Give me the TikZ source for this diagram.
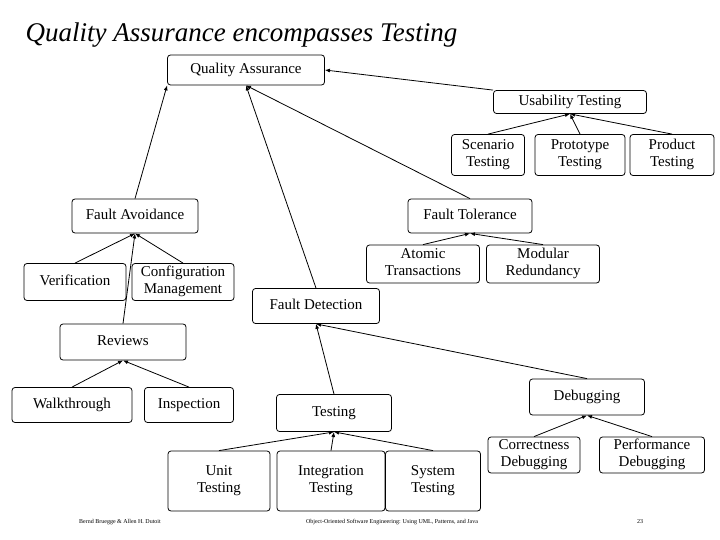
\documentclass[tikz,border=0pt]{standalone}
\usepackage{fontspec}
\setmainfont{Liberation Serif}
\usetikzlibrary{arrows.meta}
\newcommand{\twoline}[2]{#1\strut\\#2\strut}
\tikzset{
  box/.style={draw,thick,rounded corners=3pt,align=center,inner sep=1pt,
    font=\fontsize{15}{17}\selectfont},
  isa/.style={thick,-{Latex[length=5pt,width=4pt]}}
}
\begin{document}
\begin{tikzpicture}[x=1pt,y=-1pt]
  \useasboundingbox (0,0) rectangle (720,540);

  \node[font=\fontsize{27}{29}\itshape,anchor=west] (title) at (22,35) {Quality Assurance encompasses Testing};

  \node[box,minimum width=157,minimum height=30] (qa) at (246,70) {Quality Assurance\strut};
  \node[box,minimum width=153,minimum height=23] (ut) at (570,102) {Usability Testing\strut};
  \node[box,minimum width=73,minimum height=41] (st) at (488,155) {\twoline{Scenario}{Testing}};
  \node[box,minimum width=90,minimum height=41] (pt) at (580,155) {\twoline{Prototype}{Testing}};
  \node[box,minimum width=84,minimum height=41] (prt) at (672,155) {\twoline{Product}{Testing}};
  \node[box,minimum width=126,minimum height=34] (fa) at (135,216) {Fault Avoidance\strut};
  \node[box,minimum width=124,minimum height=34] (ft) at (470,216) {Fault Tolerance\strut};
  \node[box,minimum width=113,minimum height=38] (at) at (423,264) {\twoline{Atomic}{Transactions}};
  \node[box,minimum width=113,minimum height=38] (mr) at (543,264) {\twoline{Modular}{Redundancy}};
  \node[box,minimum width=102,minimum height=37] (ver) at (75,282) {Verification\strut};
  \node[box,minimum width=102,minimum height=37] (cm) at (183,282) {\twoline{Configuration}{Management}};
  \node[box,minimum width=127,minimum height=35] (fd) at (316,306) {Fault Detection\strut};
  \node[box,minimum width=126,minimum height=36] (rev) at (123,342) {Reviews\strut};
  \node[box,minimum width=120,minimum height=35] (wt) at (72,405) {Walkthrough\strut};
  \node[box,minimum width=89,minimum height=35] (ins) at (189,405) {Inspection\strut};
  \node[box,minimum width=115,minimum height=37] (tst) at (334,413) {Testing\strut};
  \node[box,minimum width=115,minimum height=36] (dbg) at (587,397) {Debugging\strut};
  \node[box,minimum width=102,minimum height=60] (unit) at (219,481) {\twoline{Unit}{Testing}};
  \node[box,minimum width=108,minimum height=60] (int) at (331,481) {\twoline{Integration}{Testing}};
  \node[box,minimum width=95,minimum height=60] (sys) at (433,481) {\twoline{System}{Testing}};
  \node[box,minimum width=92,minimum height=36] (cor) at (534,455) {\twoline{Correctness}{Debugging}};
  \node[box,minimum width=105,minimum height=36] (perf) at (652,455) {\twoline{Performance}{Debugging}};

  \node[font=\fontsize{6}{7}\selectfont] (f1) at (120,522) {Bernd Bruegge \& Allen H. Dutoit};
  \node[font=\fontsize{6}{7}\selectfont] (f2) at (392,522) {Object-Oriented Software Engineering: Using UML, Patterns, and Java};
  \node[font=\fontsize{6}{7}\selectfont] (f3) at (640,522) {23};

  \draw[isa] (fa.north) -- (qa.south west);
  \draw[isa] (fd.north) -- (qa.south);
  \draw[isa] (ft.north) -- (qa.south);
  \draw[isa] (ut.north west) -- (qa.east);
  \draw[isa] (st.north) -- (ut.south);
  \draw[isa] (pt.north) -- (ut.south);
  \draw[isa] (prt.north) -- (ut.south);
  \draw[isa] (at.north) -- (ft.south);
  \draw[isa] (mr.north) -- (ft.south);
  \draw[isa] (ver.north) -- (fa.south);
  \draw[isa] (cm.north) -- (fa.south);
  \draw[isa] (rev.north) -- (fa.south);
  \draw[isa] (wt.north) -- (rev.south);
  \draw[isa] (ins.north) -- (rev.south);
  \draw[isa] (tst.north) -- (fd.south);
  \draw[isa] (dbg.north) -- (fd.south);
  \draw[isa] (unit.north) -- (tst.south);
  \draw[isa] (int.north) -- (tst.south);
  \draw[isa] (sys.north) -- (tst.south);
  \draw[isa] (cor.north) -- (dbg.south);
  \draw[isa] (perf.north) -- (dbg.south);
\end{tikzpicture}
\end{document}
